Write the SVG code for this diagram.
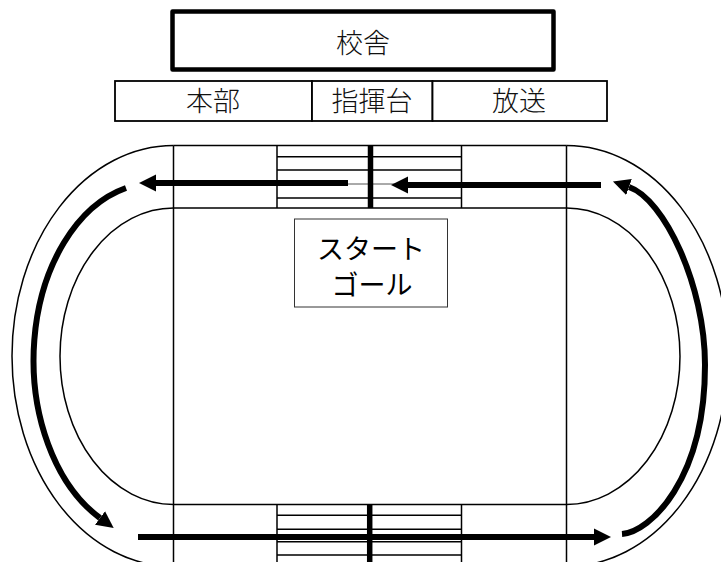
<svg xmlns="http://www.w3.org/2000/svg" width="721" height="562" viewBox="0 0 721 562">
<style>
.t{fill:none;stroke:#000;stroke-width:1.5}
.b{fill:#fff;stroke:#000;stroke-width:1.8}
.thin{fill:#fff;stroke:#333;stroke-width:1}
.lab{font-family:"Noto Sans CJK JP","Noto Sans CJK SC",sans-serif;font-size:27px;font-weight:300;text-anchor:middle;fill:#111}
.go{font-family:"Noto Sans CJK JP","Noto Sans CJK SC",sans-serif;font-size:27px;font-weight:400;text-anchor:middle;fill:#000}
.ar{fill:none;stroke:#000;stroke-width:6;marker-end:url(#h)}
.cv{fill:none;stroke:#000;stroke-width:6;marker-end:url(#h)}
.thick{stroke:#000;stroke-width:5.5;fill:none}
</style>
<defs>
<marker id="h" markerUnits="userSpaceOnUse" markerWidth="18" markerHeight="18" refX="0" refY="9" orient="auto"><path d="M0 0.5L17 9L0 17.5Z" fill="#000"/></marker>
</defs>
<rect width="721" height="562" fill="#fff"/>
<g id="track">
<path class="t" d="M173.5 145.5A161.5 210.5 0 0 0 173.5 566.5M566.5 145.5A161.5 210.5 0 0 1 566.5 566.5"/>
<path class="t" d="M173.5 208A113.5 148.25 0 0 0 173.5 504.5M566.5 208A113.5 148.25 0 0 1 566.5 504.5"/>
<path class="t" d="M173.5 145.5H566.5M173.5 208H566.5M173.5 504.5H566.5M173.500 145.500V562M566.500 145.500V562"/>
</g>
<g id="stripes-top">
<path class="t" d="M277 145.5V208M461.500 145.500V208M277 156.700H461.500M277 170H461.500M277 198H461.500"/>
<path d="M277 184H461.500" fill="none" stroke="#555" stroke-width="1"/>
<path class="thick" d="M370.500 145.500V208"/>
</g>
<g id="stripes-bottom">
<path class="t" d="M277 504.500V562M461.500 504.500V562M277 515.300H461.500M277 529.300H461.500M277 541.700H461.500M277 555H461.500"/>
<path class="thick" d="M369.700 504.500V562"/>
</g>
<g id="school"><rect x="172.500" y="11.500" width="381" height="58" fill="#fff" stroke="#000" stroke-width="4.5" stroke-linejoin="round"/><text class="lab" x="363" y="53">校舎</text></g>
<g id="hq"><rect class="b" x="115" y="81" width="197" height="40"/><text class="lab" x="213" y="111">本部</text></g>
<g id="podium"><rect class="b" x="312" y="81" width="120.500" height="40"/><text class="lab" x="372" y="111">指揮台</text></g>
<g id="broadcast"><rect class="b" x="432.500" y="81" width="174.500" height="40"/><text class="lab" x="519" y="111">放送</text></g>
<g id="start-goal"><rect class="thin" x="294.500" y="219" width="153" height="88"/><text class="go" x="371" y="259">スタート</text><text class="go" x="372" y="295">ゴール</text></g>
<g id="connectors">
<path class="ar" d="M348 183H156"/>
<path class="ar" d="M601 185H408"/>
<path class="ar" d="M138 537H594"/>
<path class="cv" d="M126 188A121 177 0 0 0 100 518"/>
<path class="cv" d="M622 534C650 532 705 480 705 365C705 285 664 199 629 187"/>
</g>
</svg>
